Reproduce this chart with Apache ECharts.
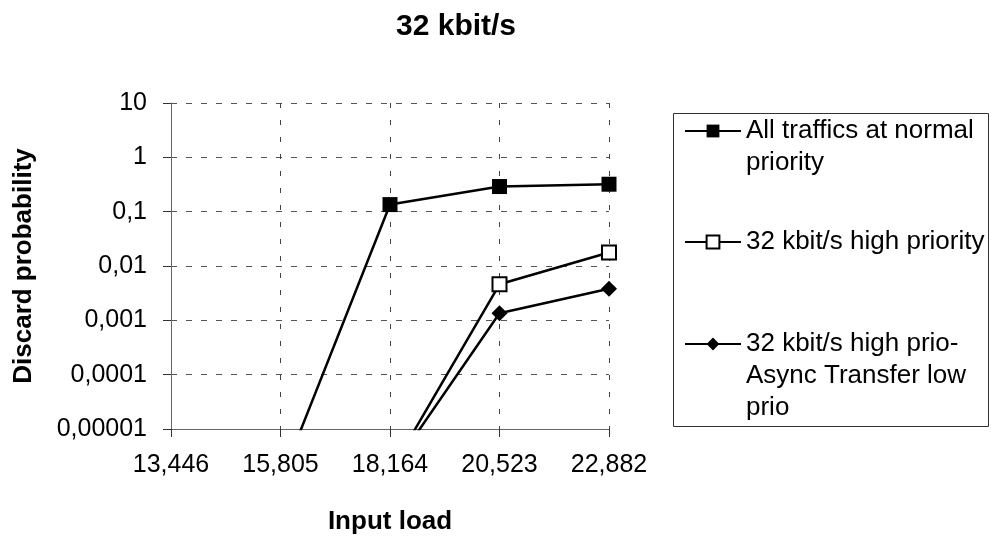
<!DOCTYPE html>
<html>
<head>
<meta charset="utf-8">
<script src="https://cdn.jsdelivr.net/npm/echarts@6/dist/echarts.min.js"></script>
<style>
  html, body { margin: 0; padding: 0; background: #fff; }
  #chart { width: 991px; height: 540px; }
</style>
</head>
<body>
<div id="chart"></div>
<script>
const categories = ['13,446', '15,805', '18,164', '20,523', '22,882']
const yTickLabels = ['10', '1', '0,1', '0,01', '0,001', '0,0001', '0,00001']

// values below 0,00001 fall out of the plot and get clipped
const normalPrio = [null, 1.1e-6, 0.135, 0.29, 0.32]
const highPrio32 = [null, null, 1.6e-6, 0.0046, 0.0177]
const highPrioAsyncLow = [null, null, 1.6e-6, 0.00135, 0.0038]

const seriesNames = [
  'All traffics at normal\npriority',
  '32 kbit/s high priority',
  '32 kbit/s high prio-\nAsync Transfer low\nprio',
]

const font = 'Liberation Sans, Arial, sans-serif'
const chart = echarts.init(document.getElementById('chart'))

// legend text is centred on the icon, so pad with blank lines on top
// to line the icon up with the first text line
const padTop = (name) => '\n'.repeat(name.split('\n').length - 1) + name

const legendBase = {
  orient: 'vertical',
  left: 684,
  padding: 0,
  itemWidth: 56,
  itemHeight: 16,
  selectedMode: false,
  formatter: padTop,
  textStyle: { fontFamily: font, fontSize: 26, color: '#000', lineHeight: 32 },
}

chart.setOption({
  animation: false,
  title: {
    text: '32 kbit/s',
    left: 391,
    top: 7,
    textStyle: { fontFamily: font, fontSize: 30, fontWeight: 'bold', color: '#000' },
  },
  legend: [
    { ...legendBase, top: 83, data: [seriesNames[0]] },
    { ...legendBase, top: 226, data: [seriesNames[1]] },
    { ...legendBase, top: 264, data: [seriesNames[2]] },
  ],
  graphic: [
    {
      type: 'rect',
      shape: { x: 673.5, y: 113.5, width: 315, height: 313 },
      style: { fill: 'none', stroke: '#333', lineWidth: 1 },
      z: -1,
    },
  ],
  grid: { left: 171, right: 382, top: 103, bottom: 104 },
  xAxis: {
    type: 'category',
    data: categories,
    boundaryGap: false,
    name: 'Input load',
    nameLocation: 'middle',
    nameGap: 80,
    nameTextStyle: { fontFamily: font, fontSize: 26, fontWeight: 'bold', color: '#000' },
    axisLine: { lineStyle: { color: '#666', width: 1 } },
    axisTick: { length: 8, lineStyle: { color: '#333' } },
    axisLabel: { fontFamily: font, fontSize: 25, color: '#000', margin: 24 },
    splitLine: { show: true, lineStyle: { color: '#444', type: [5, 12], width: 1 } },
  },
  yAxis: {
    type: 'log',
    logBase: 10,
    min: 1e-5,
    max: 10,
    name: 'Discard probability',
    nameLocation: 'middle',
    nameGap: 134,
    nameTextStyle: { fontFamily: font, fontSize: 26, fontWeight: 'bold', color: '#000' },
    axisLine: { show: true, lineStyle: { color: '#666', width: 1 } },
    axisTick: { show: true, length: 8, lineStyle: { color: '#333' } },
    axisLabel: {
      fontFamily: font,
      fontSize: 25,
      color: '#000',
      margin: 24,
      formatter: (v) => yTickLabels[Math.round(1 - Math.log10(v))],
    },
    splitLine: { show: true, lineStyle: { color: '#555', type: [6, 9], width: 1 } },
  },
  series: [
    {
      name: seriesNames[0],
      type: 'line',
      data: normalPrio,
      symbol: 'rect',
      symbolSize: 15,
      showAllSymbol: true,
      lineStyle: { color: '#000', width: 2.5 },
      itemStyle: { color: '#000' },
    },
    {
      name: seriesNames[1],
      type: 'line',
      data: highPrio32,
      symbol: 'rect',
      symbolSize: 14,
      showAllSymbol: true,
      lineStyle: { color: '#000', width: 2.5 },
      itemStyle: { color: '#fff', borderColor: '#000', borderWidth: 2 },
      z: 3,
    },
    {
      name: seriesNames[2],
      type: 'line',
      data: highPrioAsyncLow,
      symbol: 'diamond',
      symbolSize: 16,
      showAllSymbol: true,
      lineStyle: { color: '#000', width: 2.5 },
      itemStyle: { color: '#000' },
    },
  ],
})
</script>
</body>
</html>
